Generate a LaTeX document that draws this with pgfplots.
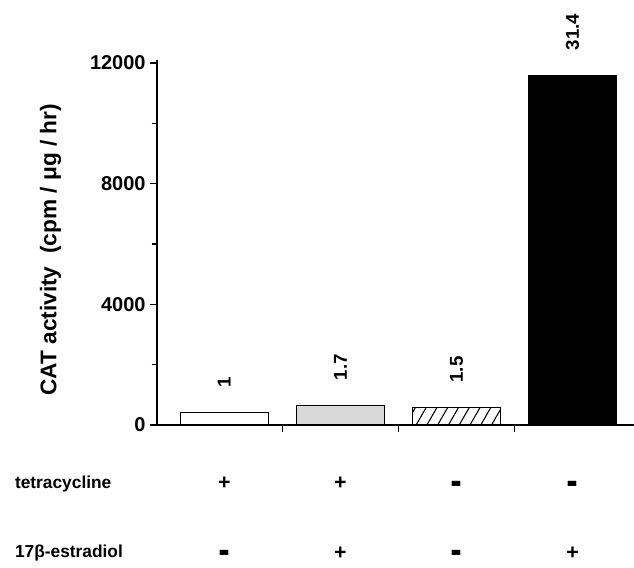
\documentclass[border=0pt]{standalone}
\usepackage{pgfplots}
\pgfplotsset{compat=1.18}
\usepackage{fontspec}
\setmainfont{Liberation Sans}
\usetikzlibrary{patterns,patterns.meta}

\newcommand{\pl}{+}
\newcommand{\mi}{\raisebox{-7.2pt}[8pt][0pt]{\scalebox{0.8}[2.2]{−}}}
\tikzset{
    sign/.style={anchor=base, font=\fontsize{16}{16}\selectfont\bfseries},
    row/.style={anchor=base west, font=\fontsize{13}{15}\selectfont\bfseries},
}

\begin{document}
\begin{tikzpicture}
\useasboundingbox (-117.75pt,-106.5pt) rectangle (357.75pt,318.75pt);
\begin{axis}[
    scale only axis,
    width=357.75pt, height=273.75pt,
    xmin=-0.58, xmax=3.53,
    ymin=0, ymax=12100,
    axis lines=left,
    axis line style={-, line width=1pt},
    ytick={0,4000,8000,12000},
    minor y tick num=1,
    xtick={0.5,1.5,2.5},
    xticklabels={},
    tick align=outside,
    major tick length=5pt, minor tick length=4pt,
    every tick/.style={black, line width=0.8pt},
    scaled y ticks=false,
    /pgf/number format/assume math mode=true,
    /pgf/number format/set thousands separator={},
    tick label style={font=\fontsize{15}{17}\selectfont\bfseries},
    ylabel={CAT activity\ \ (cpm / μg / hr)},
    ylabel style={font=\fontsize{17}{19}\selectfont\bfseries,
        at={(axis description cs:-0.223,0.48)}, anchor=center},
    ybar, bar width=66pt,
    clip=false,
    nodes near coords,
    point meta=explicit symbolic,
    every node near coord/.append style={font=\fontsize{14}{16}\selectfont\bfseries,
        rotate=90, anchor=west, xshift=15pt},
]
\addplot[bar shift=0pt, draw=black, line width=0.8pt, fill=white] coordinates {(0,400) [1]};
\addplot[bar shift=0pt, draw=black, line width=0.8pt, fill=gray!30] coordinates {(1,660) [1.7]};
\addplot[bar shift=0pt, draw=black, line width=0.8pt,
    pattern={Lines[angle=60,distance=7pt,line width=0.8pt]}] coordinates {(2,580) [1.5]};
\addplot[bar shift=0pt, draw=black, line width=0.8pt, fill=black] coordinates {(3,11600) [31.4]};

% treatment rows
\node[row] at ([yshift=-47.5pt,xshift=-110pt]rel axis cs:0,0) {tetracycline};
\node[row] at ([yshift=-99.5pt,xshift=-110pt]rel axis cs:0,0) {17β-estradiol};
\node[sign] at ([yshift=-48.5pt]axis cs:0,0) {\pl};
\node[sign] at ([yshift=-48.5pt]axis cs:1,0) {\pl};
\node[sign] at ([yshift=-48.5pt]axis cs:2,0) {\mi};
\node[sign] at ([yshift=-48.5pt]axis cs:3,0) {\mi};
\node[sign] at ([yshift=-100.5pt]axis cs:0,0) {\mi};
\node[sign] at ([yshift=-100.5pt]axis cs:1,0) {\pl};
\node[sign] at ([yshift=-100.5pt]axis cs:2,0) {\mi};
\node[sign] at ([yshift=-100.5pt]axis cs:3,0) {\pl};
\end{axis}
\end{tikzpicture}
\end{document}
